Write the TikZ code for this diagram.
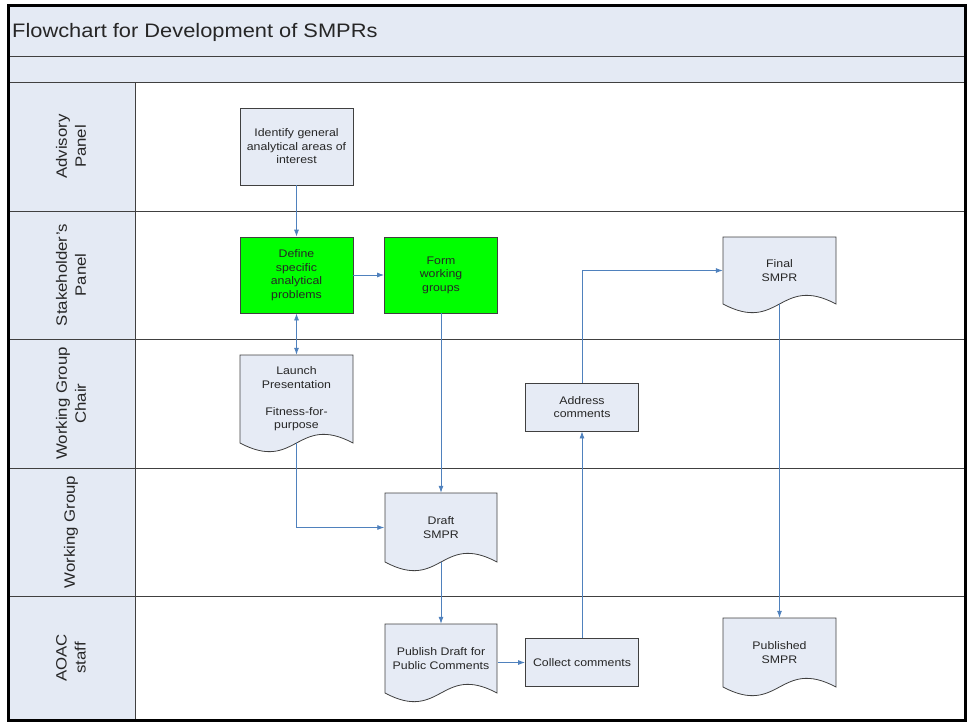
\documentclass[tikz,border=0pt]{standalone}
\usepackage{fontspec}
\setmainfont{Liberation Sans}[FakeStretch=1.12]
\usepackage{tikz}
\usetikzlibrary{arrows.meta,calc,positioning}

\definecolor{lanefill}{HTML}{E4EAF4}
\definecolor{boxfill}{HTML}{E6EBF5}
\definecolor{stepgreen}{HTML}{00FF00}
\definecolor{flowblue}{HTML}{4F81BD}
\definecolor{laneline}{HTML}{404040}

% document shape: left x, right x, top y, y of the wave ends
\newcommand{\docshape}[4]{%
	\filldraw[fill=boxfill, draw=laneline, line width=0.8pt]
		(#1,#4) -- (#1,#3) -- (#2,#3) -- (#2,#4)
		.. controls ({(#1+#2)/2},{#4-30}) and ({(#1+#2)/2},{#4+30}) .. (#1,#4) -- cycle;
}

\begin{document}
\begin{tikzpicture}[
		x=1pt, y=-1pt,
		box/.style={rectangle, draw=laneline, line width=0.8pt, fill=boxfill, minimum width=113pt, align=center, inner sep=2pt, font=\fontsize{11}{13.5}\selectfont, text=black!85},
		greenbox/.style={box, fill=stepgreen},
		doc/.style={rectangle, draw=none, minimum width=113pt, align=center, inner sep=0pt, font=\fontsize{11}{13.5}\selectfont, text=black!85},
		lanelabel/.style={rotate=90, align=center, font=\fontsize{15}{19}\selectfont, text=black!85},
		flow/.style={->, draw=flowblue, line width=0.8pt},
		>={Latex[length=7pt,width=5pt]}
		]
	\useasboundingbox (0,0) rectangle (969,723);

	% lanes
	\fill[lanefill] (9,5) rectangle (965,82);
	\fill[lanefill] (9,82) rectangle (135,720);
	\draw[laneline, line width=0.8pt] (9,56) -- (965,56);
	\draw[laneline, line width=0.8pt] (9,82) -- (965,82);
	\draw[laneline, line width=0.8pt] (9,211) -- (965,211);
	\draw[laneline, line width=0.8pt] (9,339) -- (965,339);
	\draw[laneline, line width=0.8pt] (9,468) -- (965,468);
	\draw[laneline, line width=0.8pt] (9,596) -- (965,596);
	\draw[laneline, line width=0.8pt] (135,82) -- (135,720);
	\draw[black, line width=3pt] (8.5,5) rectangle (965,720.5);

	\node[anchor=base west, inner sep=0pt, font=\fontsize{19.5}{23}\selectfont, text=black!85] (title) at (12,37) {Flowchart for Development of SMPRs};

	\node[lanelabel] (advisory) at (71,146.5) {Advisory\\Panel};
	\node[lanelabel] (stake) at (71,275) {Stakeholder's\\Panel};
	\node[lanelabel] (chair) at (71,403.5) {Working Group\\Chair};
	\node[lanelabel] (group) at (71,532) {Working Group};
	\node[lanelabel] (aoac) at (71,658) {AOAC\\staff};

	% document shapes
	\docshape{240}{353}{355}{443}
	\docshape{385}{497}{493}{562}
	\docshape{385}{497}{624}{693}
	\docshape{723}{836}{237}{304}
	\docshape{723}{836}{618}{687}

	% steps
	\node[box, minimum height=77pt] (ident) at (296.5,146.5) {Identify general\\analytical areas of\\interest};
	\node[greenbox, minimum height=76pt] (define) at (296.5,275) {Define\\specific\\analytical\\problems};
	\node[greenbox, minimum height=76pt] (form) at (441,275) {Form\\working\\groups};
	\node[box, minimum height=48pt] (address) at (582,407) {Address\\comments};
	\node[box, minimum height=48pt] (collect) at (582,662.5) {Collect comments};

	\node[doc, minimum height=88pt] (launch) at (296.5,399) {Launch\\Presentation\\[13.5pt]Fitness-for-\\purpose};
	\node[doc, minimum height=69pt] (draft) at (441,527.5) {Draft\\SMPR};
	\node[doc, minimum height=69pt] (publish) at (441,658.5) {Publish Draft for\\Public Comments};
	\node[doc, minimum height=67pt] (final) at (779.5,270.5) {Final\\SMPR};
	\node[doc, minimum height=69pt] (published) at (779.5,652.5) {Published\\SMPR};

	% connectors
	\draw[flow] (ident) -- (define);
	\draw[flow] (define) -- (form);
	\draw[flow, <->] (define) -- (launch);
	\draw[flow] (form) -- (draft);
	\draw[flow] (launch.south) |- (draft.west);
	\draw[flow] (draft.south) -- (publish);
	\draw[flow] (collect.west -| publish.east) -- (collect.west);
	\draw[flow] (collect) -- (address);
	\draw[flow] (address.north) |- (final.west);
	\draw[flow] (final.south) -- (published);

\end{tikzpicture}
\end{document}
